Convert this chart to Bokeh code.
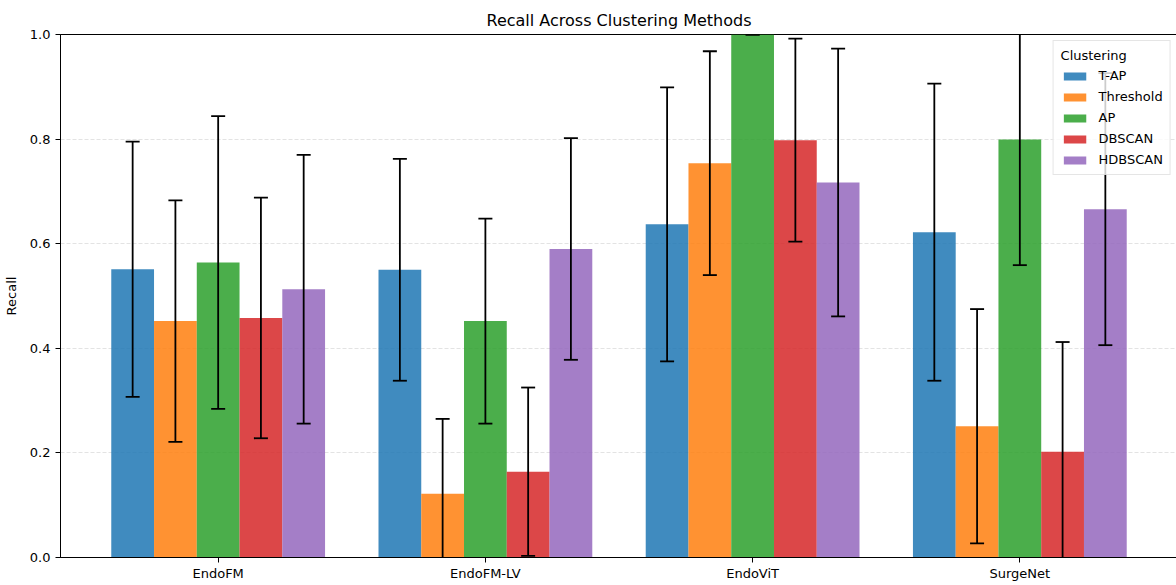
from bokeh.plotting import figure
from bokeh.models import FactorRange, Range1d, ColumnDataSource, NumeralTickFormatter, FixedTicker, Legend, LegendItem
from bokeh.transform import dodge
from bokeh.embed import file_html
from bokeh.resources import INLINE

groups = ["EndoFM", "EndoFM-LV", "EndoViT", "SurgeNet"]
methods = ["T-AP", "Threshold", "AP", "DBSCAN", "HDBSCAN"]
colors = ["#1f77b4", "#ff7f0e", "#2ca02c", "#d62728", "#9467bd"]

tap = [0.551, 0.550, 0.637, 0.622]
tap_err = [0.244, 0.212, 0.262, 0.284]
threshold = [0.452, 0.122, 0.754, 0.251]
threshold_err = [0.231, 0.143, 0.214, 0.224]
ap = [0.564, 0.452, 1.0, 0.799]
ap_err = [0.280, 0.196, 0.0, 0.240]
dbscan = [0.458, 0.164, 0.798, 0.202]
dbscan_err = [0.230, 0.161, 0.194, 0.210]
hdbscan = [0.513, 0.590, 0.717, 0.666]
hdbscan_err = [0.257, 0.212, 0.256, 0.260]

y_ticks = [0.0, 0.2, 0.4, 0.6, 0.8, 1.0]

series = [tap, threshold, ap, dbscan, hdbscan]
errors = [tap_err, threshold_err, ap_err, dbscan_err, hdbscan_err]

FONT = "DejaVu Sans"

p = figure(
    width=1177, height=580,
    x_range=FactorRange(*groups, range_padding=0.09, range_padding_units="absolute"),
    y_range=Range1d(0, 1),
    output_backend="svg", toolbar_location=None,
    min_border_left=54, min_border_right=0, min_border_top=29, min_border_bottom=21,
)
p.margin = (3, 0, 0, 0)

p.title.text = "Recall Across Clustering Methods"
p.title.align = "center"
p.title.text_font = FONT
p.title.text_font_size = "16px"
p.title.text_font_style = "normal"
p.title.text_color = "#000000"

bar_w = 0.16
offsets = [-0.32, -0.16, 0.0, 0.16, 0.32]
legend_items = []
sources = []
for name, vals, errs, col, off in zip(methods, series, errors, colors, offsets):
    src = ColumnDataSource(dict(
        group=groups, val=vals,
        upper=[v + e for v, e in zip(vals, errs)],
        lower=[v - e for v, e in zip(vals, errs)],
    ))
    sources.append(src)
    r = p.vbar(x=dodge("group", off, range=p.x_range), top="val", width=bar_w,
               source=src, fill_color=col, fill_alpha=0.85, line_color=None)
    legend_items.append(LegendItem(label=name, renderers=[r]))

for src, off in zip(sources, offsets):
    xd = dodge("group", off, range=p.x_range)
    p.segment(x0=xd, y0="lower", x1=xd, y1="upper", source=src,
              line_color="black", line_width=1.8)
    p.scatter(x=xd, y="upper", source=src, marker="dash", size=14,
              line_color="black", line_width=1.8)
    p.scatter(x=xd, y="lower", source=src, marker="dash", size=14,
              line_color="black", line_width=1.8)

legend = Legend(items=legend_items, location="top_right")
legend.title = "Clustering"
legend.title_text_font = FONT
legend.title_text_font_size = "13px"
legend.title_text_font_style = "normal"
legend.title_text_color = "#000000"
legend.label_text_font = FONT
legend.label_text_font_size = "13px"
legend.label_text_color = "#000000"
legend.label_standoff = 10
legend.glyph_width = 28
legend.glyph_height = 10
legend.label_height = 14
legend.spacing = 6
legend.padding = 7
legend.margin = 6
legend.border_line_color = "#cccccc"
legend.border_line_width = 1
legend.background_fill_alpha = 0.8
p.add_layout(legend)

p.xgrid.grid_line_color = None
p.ygrid.grid_line_color = "#b0b0b0"
p.ygrid.grid_line_alpha = 0.35
p.ygrid.grid_line_dash = "4 2"
p.ygrid.ticker = FixedTicker(ticks=y_ticks)

p.yaxis.ticker = FixedTicker(ticks=y_ticks)
p.yaxis.formatter = NumeralTickFormatter(format="0.0")
p.yaxis.axis_label = "Recall"
p.yaxis.axis_label_text_font = FONT
p.yaxis.axis_label_text_font_size = "13px"
p.yaxis.axis_label_text_font_style = "normal"
p.yaxis.axis_label_text_color = "#000000"
p.yaxis.axis_label_standoff = 8

for ax in (p.xaxis, p.yaxis):
    ax.major_label_text_font = FONT
    ax.major_label_text_font_size = "13px"
    ax.major_label_text_color = "#000000"
    ax.axis_line_color = "black"
    ax.major_tick_line_color = "black"
    ax.major_tick_out = 5
    ax.major_tick_in = 0
    ax.minor_tick_line_color = None
p.xaxis.major_label_standoff = 3

p.outline_line_color = "black"
p.outline_line_alpha = 1.0
p.outline_line_width = 1

open("out.html", "w").write(file_html(p, INLINE))
